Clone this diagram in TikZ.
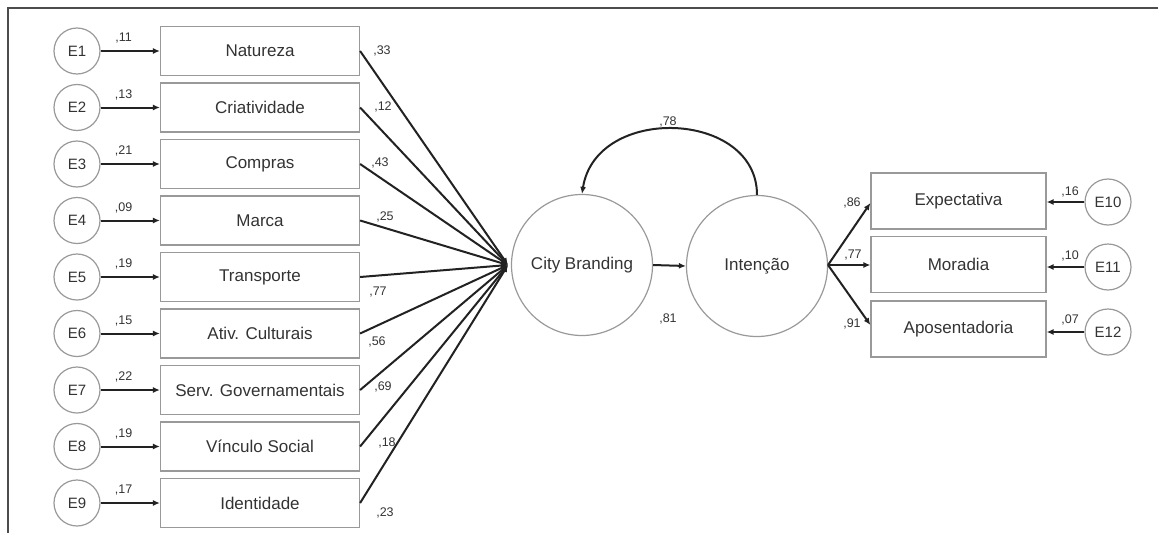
\documentclass[tikz,border=0pt]{standalone}
\usepackage{fontspec}
\setmainfont{Liberation Sans}
\usetikzlibrary{arrows.meta}
\definecolor{txt}{HTML}{333333}
\definecolor{edge}{HTML}{999999}
\definecolor{ln}{HTML}{222222}
\begin{document}
\begin{tikzpicture}[x=1pt,y=-1pt,
  obs/.style={rectangle,draw=edge,line width=1.2pt,minimum width=199pt,minimum height=49pt,inner sep=0pt,text=txt,font=\fontsize{17}{20}\selectfont},
  obsr/.style={obs,minimum width=175pt,minimum height=56pt},
  err/.style={circle,draw=edge,line width=1.2pt,minimum size=46pt,inner sep=0pt,text=txt,font=\fontsize{15}{18}\selectfont},
  lat/.style={circle,draw=edge,line width=1.2pt,minimum size=141pt,inner sep=0pt,text=txt,font=\fontsize{17}{20}\selectfont},
  arr/.style={draw=ln,line width=2pt,-{Latex[length=7pt,width=6pt]}},
  lbl/.style={text=txt,font=\fontsize{12.5}{14}\selectfont,inner sep=0pt}]
\useasboundingbox (0,0) rectangle (1159,533);
\draw[draw=black!70,line width=1.5pt] (1158,8) -- (8,8) -- (8,533);
% left indicators
\foreach \i/\y/\t in {1/51/Natureza,2/107.5/Criatividade,3/164/Compras,4/220.5/Marca,5/277/Transporte,6/333.5/Ativ. Culturais,7/390/Serv. Governamentais,8/446.5/Vínculo Social,9/503/Identidade}{
  \node[obs] (b\i) at (260,\y) {\t};
  \node[err] (e\i) at (77,\y) {E\i};
  \draw[arr] (e\i.east) -- (b\i.west);
}
\foreach \i/\v in {1/11,2/13,3/21,4/09,5/19,6/15,7/22,8/19,9/17}{
  \path (e\i.east) ++(23,-13) node[lbl] (el\i) {,\v};
}
% latent
\node[lat] (cb) at (582,265) {City Branding};
\node[lat] (int) at (757,266) {Intenção};
\coordinate (cbin) at (508,265);
\foreach \i in {1,...,9}{ \draw[arr] (b\i.east) -- (cbin); }
\node[lbl] (l1) at (382,51) {,33};
\node[lbl] (l2) at (383,107) {,12};
\node[lbl] (l3) at (380,163) {,43};
\node[lbl] (l4) at (385,217) {,25};
\node[lbl] (l5) at (378,292) {,77};
\node[lbl] (l6) at (377,342) {,56};
\node[lbl] (l7) at (383,387) {,69};
\node[lbl] (l8) at (387,443) {,18};
\node[lbl] (l9) at (385,513) {,23};
\draw[arr] (cb.east) -- (int.west);
\node[lbl] (l81) at (668,319) {,81};
\draw[arr] (int.north) .. controls (757,110) and (596,104) .. (cb.north);
\node[lbl] (l78) at (668,122) {,78};
% right indicators
\node[obsr] (r1) at (958.5,201) {Expectativa};
\node[obsr] (r2) at (958.5,264.5) {Moradia};
\node[obsr] (r3) at (958.5,329) {Aposentadoria};
\node[err] (e10) at (1108,202) {E10};
\node[err] (e11) at (1108,267) {E11};
\node[err] (e12) at (1108,332) {E12};
\coordinate (iout) at (828,265);
\draw[arr] (iout) -- (r1.west |- 0,203);
\draw[arr] (iout) -- (r2.west |- 0,265);
\draw[arr] (iout) -- (r3.west |- 0,325);
\node[lbl] (l86) at (852,203) {,86};
\node[lbl] (l77) at (853,255) {,77};
\node[lbl] (l91) at (852,324) {,91};
\draw[arr] (e10.west) -- (r1.east |- e10.west);
\draw[arr] (e11.west) -- (r2.east |- e11.west);
\draw[arr] (e12.west) -- (r3.east |- e12.west);
\node[lbl] (l16) at (1070,192) {,16};
\node[lbl] (l10) at (1070,256) {,10};
\node[lbl] (l07) at (1070,320) {,07};
\end{tikzpicture}
\end{document}
